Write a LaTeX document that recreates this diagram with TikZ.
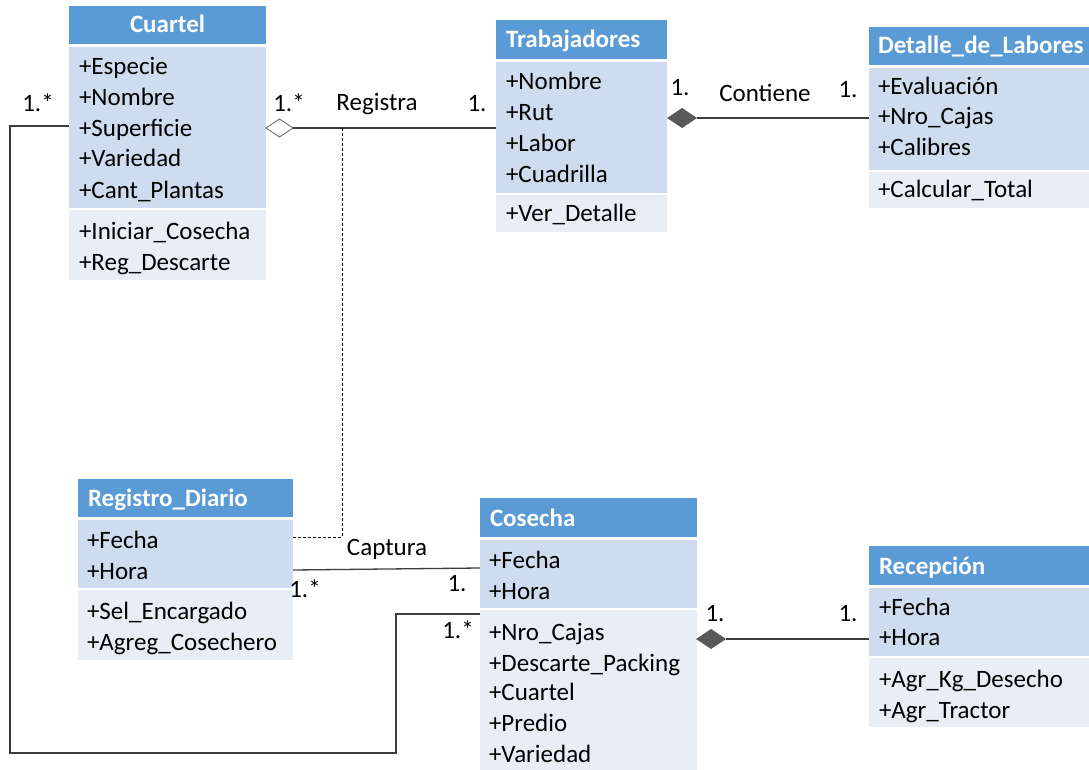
\documentclass[tikz,border=0pt]{standalone}
\usepackage{fontspec}
\setmainfont{Carlito}
\usetikzlibrary{shapes.geometric}
\definecolor{hdrblue}{RGB}{91,155,213}
\definecolor{attrfill}{RGB}{207,219,239}
\definecolor{methfill}{RGB}{232,237,246}
\definecolor{linegray}{RGB}{60,60,60}
\definecolor{diamgray}{RGB}{89,89,89}

% class box: id, left, right, top, header bottom, attribute bottom, method bottom
\newcommand\umlbox[7]{%
  \node[hdr, minimum width={#3-#2}, minimum height={#5-#4}] (#1-h) at (#2,#4) {};
  \node[attrs, minimum width={#3-#2}, minimum height={#6-#5-3}] (#1-a) at (#2,#5+3) {};
  \node[meths, minimum width={#3-#2}, minimum height={#7-#6-2}] (#1-m) at (#2,#6+2) {};
}
% text rows of a class box: id, left x, list of centre-y/text
\newcommand\umlrows[3]{%
  \foreach \yy/\rowtext [count=\i] in {#3} {\node[txt] (#1-r\i) at (#2,\yy+8) {\rowtext};}
}

\begin{document}
\begin{tikzpicture}[x=1pt,y=-1pt,
  every node/.style={inner sep=0pt, outer sep=0pt},
  sect/.style={anchor=north west, draw=none},
  hdr/.style={sect, fill=hdrblue},
  attrs/.style={sect, fill=attrfill},
  meths/.style={sect, fill=methfill},
  title/.style={anchor=base west, text=white, font=\bfseries\fontsize{25}{30}\selectfont},
  txt/.style={anchor=base west, text=black, font=\fontsize{25}{30}\selectfont},
  lbl/.style={anchor=base, text=black, font=\fontsize{25}{30}\selectfont},
  assoc/.style={draw=linegray, line width=1.3pt},
  dep/.style={draw=black, line width=0.9pt, dash pattern=on 3pt off 2pt},
  aggr/.style={diamond, draw=gray!85!black, fill=white, minimum width=27pt, minimum height=18pt, line width=0.9pt},
  comp/.style={diamond, fill=diamgray, minimum width=30pt, minimum height=20pt},
]
\clip (0,0) rectangle (1089,770);
\fill[white] (0,0) rectangle (1089,770);

% ---------- classes ----------
\umlbox{cuartel}{69}{266}{6}{44}{208}{280}
\node[title, anchor=base] (cuartel-t) at (167.5,33) {Cuartel};
\umlrows{cuartel}{79}{67/+Especie, 98/+Nombre, 129/+Superficie, 159/+Variedad, 191/+Cant\_Plantas, 231/+Iniciar\_Cosecha, 262/+Reg\_Descarte}

\umlbox{trab}{496}{667}{20}{59}{193}{232}
\node[title] (trab-t) at (506,48) {Trabajadores};
\umlrows{trab}{506}{82/+Nombre, 113/+Rut, 144/+Labor, 175/+Cuadrilla, 214/+Ver\_Detalle}

\umlbox{det}{869}{1095}{27}{65}{170}{208}
\node[title] (det-t) at (878,54) {Detalle\_de\_Labores};
\umlrows{det}{878}{87/+Evaluación, 117/+Nro\_Cajas, 148/+Calibres, 189/+Calcular\_Total}

\umlbox{reg}{78}{293}{479}{517}{588}{660}
\node[title] (reg-t) at (88,506) {Registro\_Diario};
\umlrows{reg}{87}{540/+Fecha, 571/+Hora, 611/+Sel\_Encargado, 642/+Agreg\_Cosechero}

\umlbox{cos}{480}{697}{498}{537}{608}{780}
\node[title] (cos-t) at (490,526) {Cosecha};
\umlrows{cos}{489}{560/+Fecha, 591/+Hora, 632/+Nro\_Cajas, 663/+Descarte\_Packing, 692/+Cuartel, 723/+Predio, 754/+Variedad}

\umlbox{rec}{869}{1095}{546}{585}{656}{727}
\node[title] (rec-t) at (879,574) {Recepción};
\umlrows{rec}{879}{607/+Fecha, 637/+Hora, 679/+Agr\_Kg\_Desecho, 710/+Agr\_Tractor}

% ---------- Registra (aggregation) ----------
\node[aggr] (regAgg) at (279.5,128) {};
\draw[assoc] (regAgg.east) -- (regAgg.east -| trab-a.west);
\coordinate (dashTop) at (342,128);
\coordinate (dashCorner) at (342,537);
\draw[dep] (dashTop) -- (dashCorner) -- (dashCorner -| reg-a.east);
\node[lbl] (m1) at (289,112) {1.*};
\node[lbl] (n1) at (377,111) {Registra};
\node[lbl] (m2) at (477,112) {1.};

% ---------- Contiene (composition) ----------
\node[comp] (contD) at (682,118) {};
\draw[assoc] (contD.east) -- (contD.east -| det-a.west);
\node[lbl] (m3) at (680,96) {1.};
\node[lbl] (n2) at (765,102) {Contiene};
\node[lbl] (m4) at (848,98) {1.};

% ---------- Captura ----------
\coordinate (capL) at (293,570);
\coordinate (capR) at (480,568);
\draw[assoc] (capL -| reg-a.east) -- (capR -| cos-a.west);
\node[lbl] (n3) at (387,555) {Captura};
\node[lbl] (m5) at (305,597) {1.*};
\node[lbl] (m6) at (457,591) {1.};

% ---------- Cuartel -- Cosecha ----------
\coordinate (loopA) at (10,126);
\coordinate (loopB) at (10,753);
\coordinate (loopC) at (396,753);
\coordinate (loopD) at (396,614);
\draw[assoc] (loopA -| cuartel-a.west) -- (loopA) -- (loopB) -- (loopC) -- (loopD) -- (loopD -| cos-m.west);
\node[lbl] (m7) at (38,112) {1.*};
\node[lbl] (m8) at (458,638) {1.*};

% ---------- Cosecha -- Recepción (composition) ----------
\node[comp] (recD) at (711,639) {};
\draw[assoc] (recD.east) -- (recD.east -| rec-a.west);
\node[lbl] (m9) at (715,621) {1.};
\node[lbl] (m10) at (848,621) {1.};
\end{tikzpicture}
\end{document}
